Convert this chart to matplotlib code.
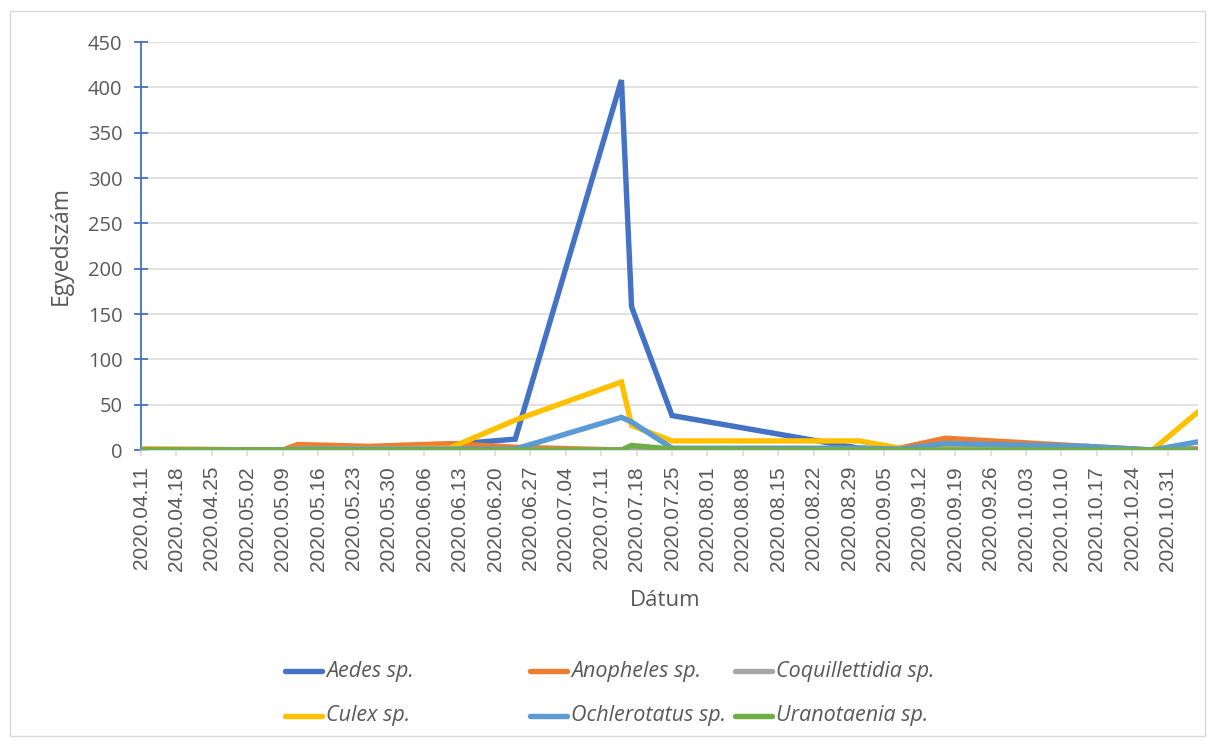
import matplotlib
matplotlib.use("Agg")
import matplotlib.pyplot as plt
import matplotlib.dates as mdates
from matplotlib.lines import Line2D
from matplotlib.patches import Rectangle
import pandas as pd

# ---- data ----
dates = ["2020-04-11", "2020-05-09", "2020-05-12", "2020-05-26", "2020-06-11",
         "2020-06-24", "2020-07-15", "2020-07-17", "2020-07-25", "2020-08-31",
         "2020-09-08", "2020-09-17", "2020-10-15", "2020-10-28", "2020-11-06"]

aedes          = [0, 0, 1, 1, 6, 12, 408, 158, 38, 2, 1, 1, 1, 0, 1]
anopheles      = [1, 0, 6, 4, 7, 3, 0, 2, 1, 1, 2, 13, 4, 0, 1]
coquillettidia = [0, 0, 0, 0, 0, 0, 0, 2, 0, 0, 0, 0, 0, 0, 0]
culex          = [1, 0, 1, 1, 2, 33, 75, 27, 10, 10, 2, 1, 0, 0, 42]
ochlerotatus   = [0, 0, 1, 1, 1, 1, 36, 31, 2, 2, 1, 7, 4, 0, 9]
uranotaenia    = [0, 0, 0, 0, 0, 0, 0, 5, 1, 0, 0, 0, 0, 0, 0]

series_names = ["Aedes sp.", "Anopheles sp.", "Coquillettidia sp.",
                "Culex sp.", "Ochlerotatus sp.", "Uranotaenia sp."]
series_values = [aedes, anopheles, coquillettidia, culex, ochlerotatus, uranotaenia]
colors = ["#4472C4", "#ED7D31", "#A5A5A5", "#FFC000", "#5B9BD5", "#70AD47"]

tick_start = "2020-04-11"
tick_end = "2020-10-31"
y_ticks = [0, 50, 100, 150, 200, 250, 300, 350, 400, 450]

# ---- figure ----
W, H = 1214, 745
fig = plt.figure(figsize=(W / 100, H / 100), dpi=100)
fig.patch.set_facecolor("white")

def px(x, y):
    return x / W, 1 - y / H

L, R, T, B = 141, 1198, 42, 450
ax = fig.add_axes([L / W, 1 - B / H, (R - L) / W, (B - T) / H])

x = pd.to_datetime(dates)
lw = 3.9
for vals, col in zip(series_values, colors):
    ax.plot(x, vals, color=col, lw=lw, solid_joinstyle="miter", solid_capstyle="round", zorder=3)

ax.set_xlim(x[0], x[-1])
ax.set_ylim(0, 450)
ax.set_yticks(y_ticks)
ax.grid(axis="y", color="#D9D9D9", lw=1.1, zorder=0)
ax.set_axisbelow(True)

for s in ["top", "right"]:
    ax.spines[s].set_visible(False)
ax.spines["left"].set_color("#4472C4")
ax.spines["left"].set_linewidth(1.3)
ax.spines["left"].set_zorder(2)
ax.spines["bottom"].set_color("#D9D9D9")
ax.spines["bottom"].set_linewidth(1.1)

ax.tick_params(axis="y", direction="inout", length=10.5, width=1.3, color="#4472C4",
               labelcolor="#595959", pad=8)
for lab in ax.get_yticklabels():
    lab.set_fontfamily("Open Sans")
    lab.set_fontsize(14.5)

ticks = pd.date_range(tick_start, tick_end, freq="7D")
ax.set_xticks(ticks)
ax.xaxis.set_major_formatter(mdates.DateFormatter("%Y.%m.%d"))
ax.tick_params(axis="x", direction="out", length=4.5, width=1.1, color="#D9D9D9",
               labelcolor="#595959", pad=7, labelrotation=90)
for lab in ax.get_xticklabels():
    lab.set_fontfamily("Liberation Sans")
    lab.set_fontsize(15)

fig.text(*px(61, 245), "Egyedszám", rotation=90, ha="center", va="center",
         fontsize=16.5, family="Open Sans", color="#595959")
fig.text(*px(665, 601), "Dátum", ha="center", va="center",
         fontsize=16, family="Open Sans", color="#595959")

# ---- legend (Excel style) ----
col_x = [285, 530, 735]
row_y = [671, 716]
hlen = 37
for i, (name, col) in enumerate(zip(series_names, colors)):
    r, c = divmod(i, 3)
    x0 = col_x[c]
    y0 = row_y[r]
    fig.add_artist(Line2D([x0 / W, (x0 + hlen) / W], [1 - y0 / H, 1 - y0 / H],
                          color=col, lw=lw, solid_capstyle="round"))
    fig.text(*px(x0 + hlen + 4, y0), name, ha="left", va="center", fontsize=15.5,
             family="Open Sans", style="italic", color="#595959")

# outer chart border
fig.add_artist(Rectangle((10 / W, 1 - 736 / H), (1205 - 10) / W, (736 - 11) / H,
                         fill=False, edgecolor="#D9D9D9", lw=1.0,
                         transform=fig.transFigure))

fig.savefig("out.png", dpi=100)
